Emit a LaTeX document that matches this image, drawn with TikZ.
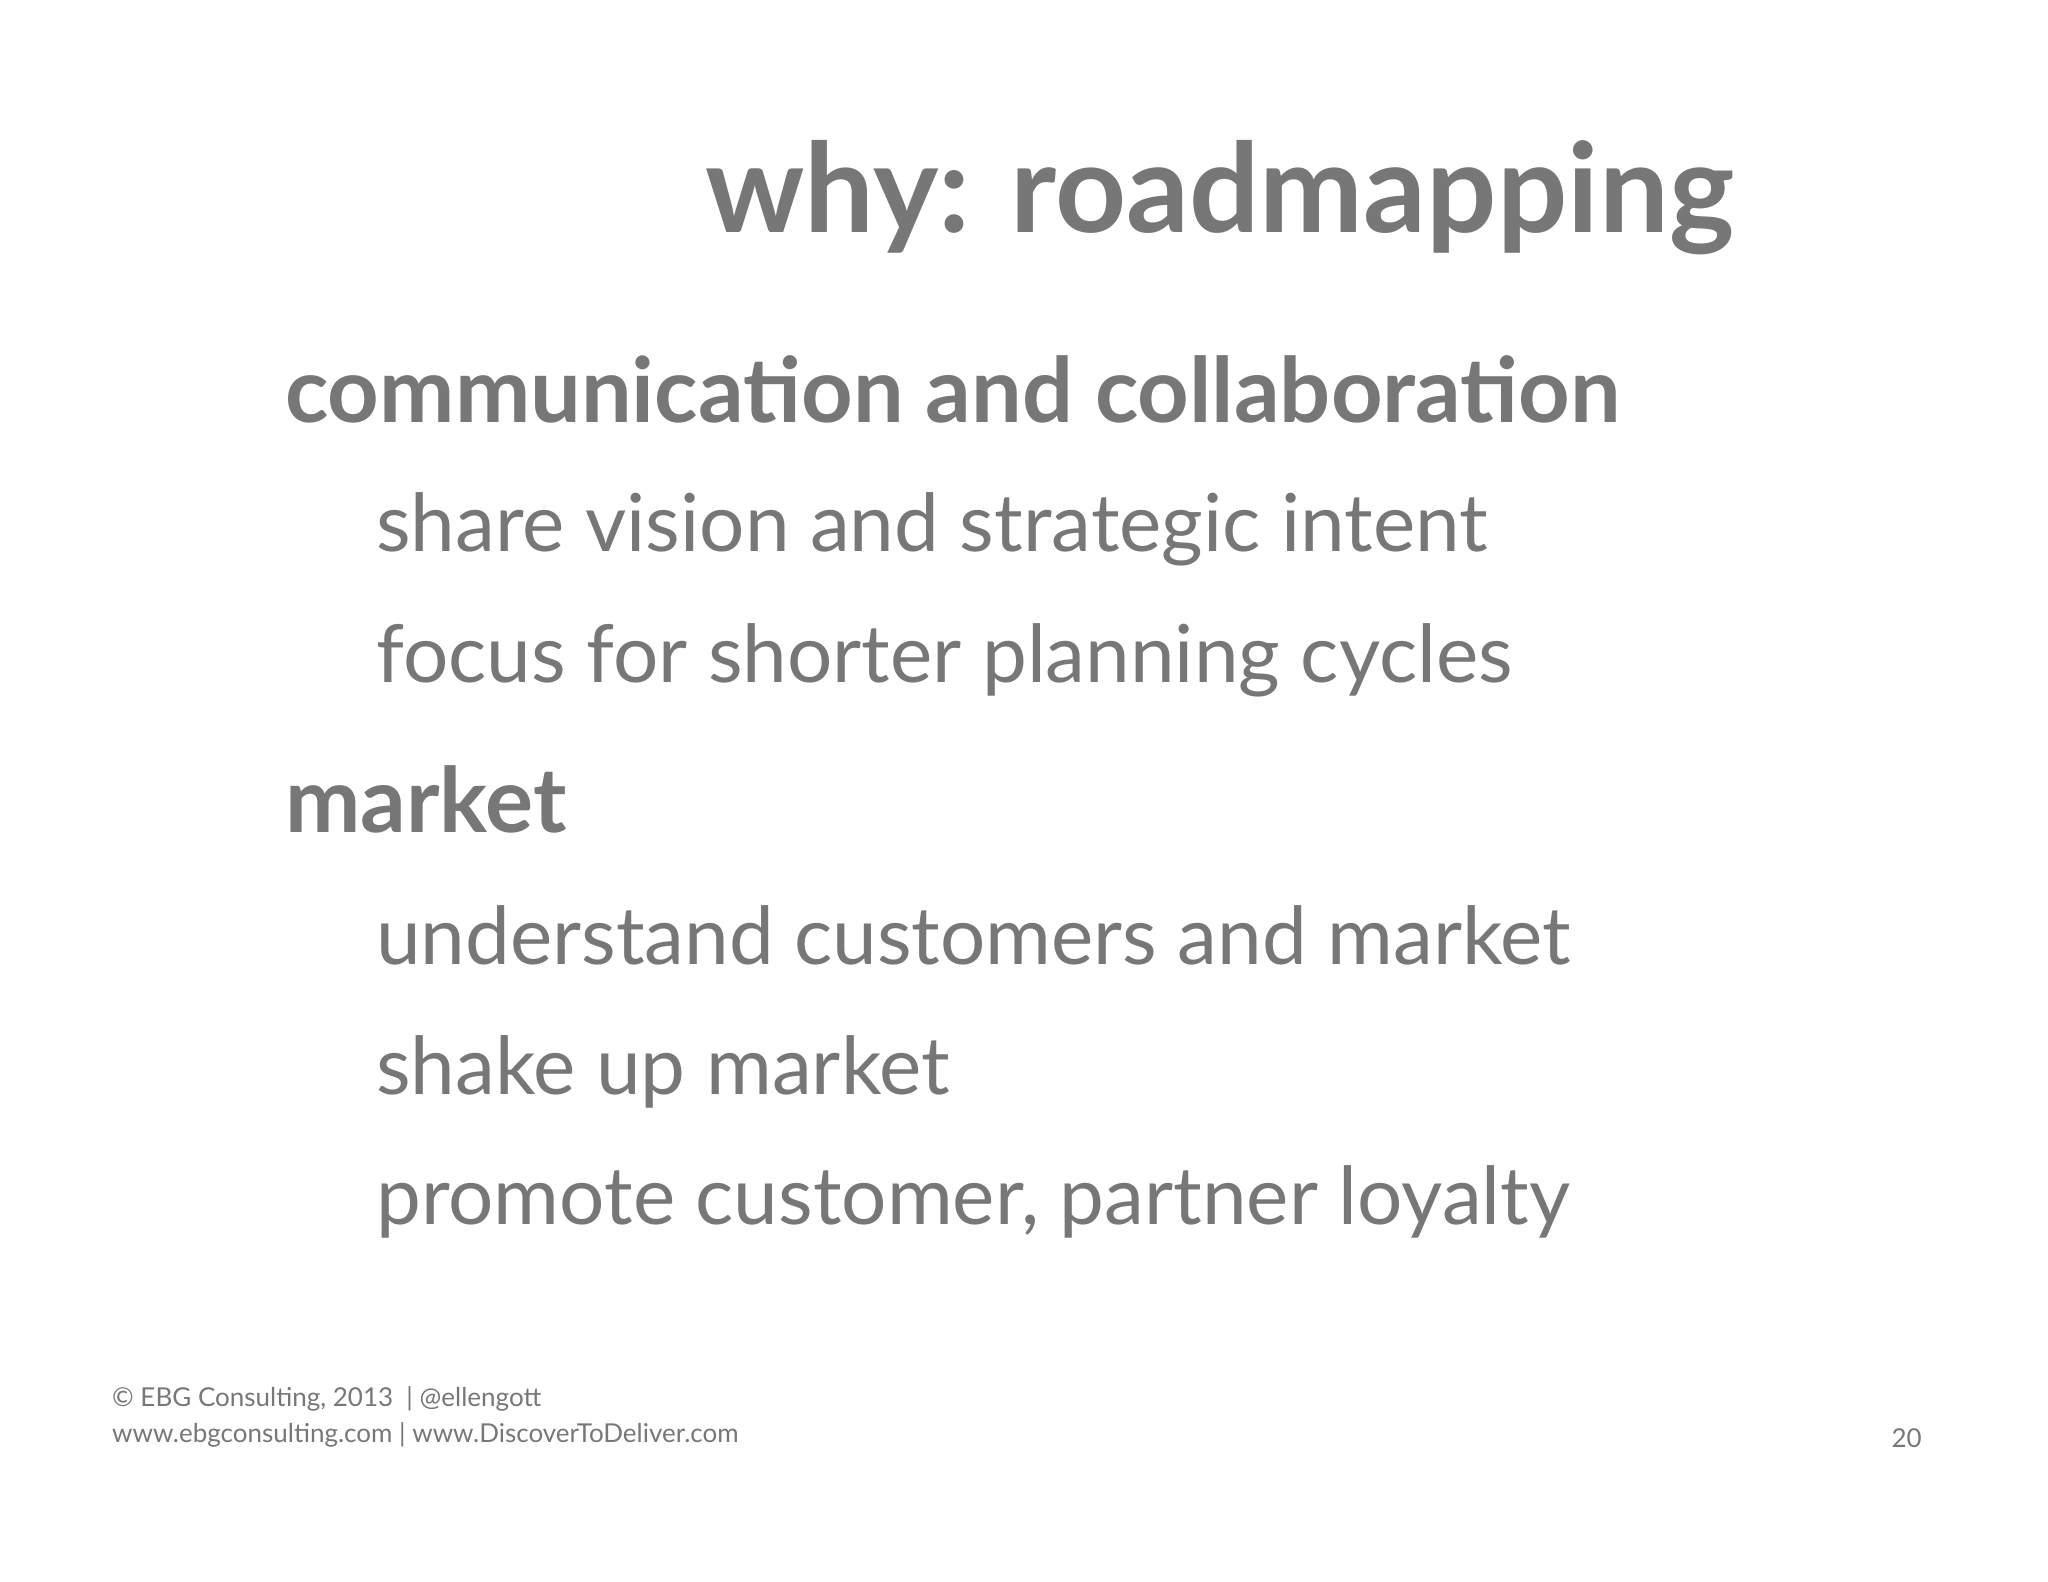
\documentclass[tikz,border=0pt]{standalone}
\usepackage{fontspec}
\setmainfont{Lato}
\definecolor{tg}{HTML}{777777}
\begin{document}
\begin{tikzpicture}[x=1pt,y=-1pt,
  txt/.style={anchor=base west,inner sep=0pt,text=tg},
  ttl/.style={txt,font=\fontsize{124}{130}\selectfont\bfseries},
  hd/.style={txt,font=\fontsize{90}{96}\selectfont\bfseries},
  it/.style={txt,font=\fontsize{80}{86}\selectfont},
  ft/.style={txt,font=\fontsize{26}{30}\selectfont}]
\useasboundingbox (0,0) rectangle (2048,1582);
\node[ttl] (title) at (705,232) {why: roadmapping};
\node[hd] (h1) at (285,422) {communication and collaboration};
\node[it] (a1) at (376,551) {share vision and strategic intent};
\node[it] (a2) at (376,682) {focus for shorter planning cycles};
\node[hd] (h2) at (285,832) {market};
\node[it] (b1) at (376,964) {understand customers and market};
\node[it] (b2) at (376,1094) {shake up market};
\node[it] (b3) at (376,1224) {promote customer, partner loyalty};
\node[ft] (f1) at (112,1406) {© EBG Consulting, 2013~~| @ellengott};
\node[ft] (f2) at (112,1442) {www.ebgconsulting.com | www.DiscoverToDeliver.com};
\node[ft,anchor=base east] (pg) at (1922,1447) {20};
\end{tikzpicture}
\end{document}
